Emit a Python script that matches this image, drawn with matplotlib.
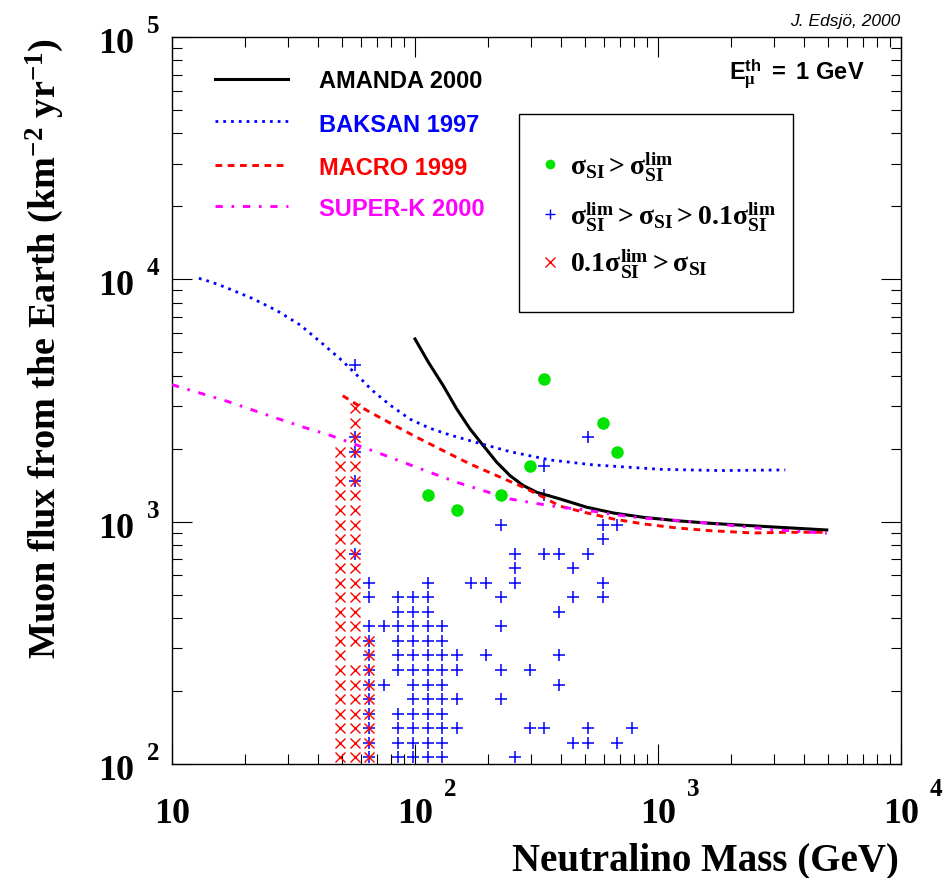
import matplotlib
matplotlib.use('Agg')
import matplotlib.pyplot as plt
import matplotlib.transforms as mtransforms
from matplotlib.lines import Line2D
from matplotlib.patches import Rectangle

plt.rcParams['mathtext.fontset'] = 'custom'
plt.rcParams['mathtext.rm'] = 'Liberation Serif:bold'
plt.rcParams['mathtext.it'] = 'Liberation Serif:bold'
plt.rcParams['mathtext.bf'] = 'Liberation Serif:bold'
plt.rcParams['mathtext.sf'] = 'Liberation Sans:bold'
plt.rcParams['mathtext.default'] = 'rm'

# ---------------- data ----------------
# scan grid (neutralino mass bins in GeV, muon flux bins in km^-2 yr^-1)
mass_grid = [49.2, 56.5, 64.9, 74.5, 85.5, 98.2, 112.7, 129.4, 148.6, 170.6,
             195.9, 224.9, 258.2, 296.5, 340.4, 390.8, 448.7, 515.2, 591.6,
             679.2, 779.8]
flux_grid = [106.7, 122.5, 140.6, 161.4, 185.4, 212.8, 244.3, 280.5, 322.1,
             369.8, 424.6, 487.5, 559.8, 642.7, 737.9, 847.2, 972.8, 1116.9,
             1282.3, 1472.3, 1690.4, 1940.9, 2228.4, 2558.5, 2937.6, 3372.8,
             3872.6, 4446.3]

# sigma_SI > sigma_lim : (mass bin, flux bin)
green_points = [(6, 18), (8, 17), (11, 18), (13, 20), (14, 26), (18, 23), (19, 21)]

# sigma_lim > sigma_SI > 0.1 sigma_lim : flux bin -> mass bins
plus_points = {
    0: [2, 4, 5, 6, 7, 12],
    1: [2, 4, 5, 6, 7, 16, 17, 19],
    2: [2, 4, 5, 6, 7, 8, 13, 14, 17, 20],
    3: [2, 4, 5, 6, 7],
    4: [2, 5, 6, 7, 8, 11],
    5: [2, 3, 5, 6, 7, 15],
    6: [2, 4, 5, 6, 7, 8, 11, 13],
    7: [2, 4, 5, 6, 7, 8, 10, 15],
    8: [2, 4, 5, 6, 7],
    9: [2, 3, 4, 5, 6, 7, 11],
    10: [4, 5, 6, 15],
    11: [2, 4, 5, 6, 11, 16, 18],
    12: [2, 6, 9, 10, 12, 18],
    13: [12, 16],
    14: [1, 12, 14, 15, 17],
    15: [18],
    16: [11, 18, 19],
    18: [14],
    19: [1],
    20: [14],
    21: [1],
    22: [1, 17],
    27: [1],
}

# 0.1 sigma_lim > sigma_SI : mass bin -> flux bins
cross_points = {
    0: [0, 1, 2, 3, 4, 5, 6, 7, 8, 9, 10, 11, 12, 13, 14, 15, 16, 17, 18, 19, 20, 21],
    1: [0, 1, 2, 3, 4, 5, 6, 8, 9, 10, 11, 12, 13, 14, 15, 16, 17, 18, 19, 20,
        21, 22, 23, 24],
    2: [0, 1, 2, 3, 4, 5, 6, 7, 8],
}

amanda_mass = [100, 113.5, 130.7, 148.5, 168.4, 191, 216.8, 246, 279, 317, 395,
               509, 655, 870, 1195, 1637, 2175, 4950]
amanda_flux = [5675, 4550, 3640, 2918, 2414, 2060, 1760, 1549, 1409, 1322, 1241,
               1147, 1086, 1042, 1009, 985, 968, 924]

baksan_mass = [12.9, 14.6, 16.6, 21.3, 27.0, 33.7, 41.4, 50.1, 61.5, 66.1, 78.9,
               95.3, 115, 139, 168, 246, 359, 542, 1019, 1800, 3340]
baksan_flux = [10100, 9730, 9270, 8360, 7430, 6480, 5450, 4620, 3780, 3508, 3030,
               2650, 2430, 2280, 2160, 1945, 1798, 1715, 1645, 1625, 1635]

macro_mass = [50.4, 57.7, 65.3, 81.5, 101.6, 130.7, 168.4, 216.8, 279, 337, 395,
              509, 655, 870, 1195, 1637, 2466, 3388, 4950]
macro_flux = [3311, 3041, 2830, 2510, 2230, 1963, 1730, 1549, 1387, 1262, 1159,
              1087, 1026, 979, 942, 918, 898, 904, 904]

superk_mass = [10, 13.3, 16.6, 21.3, 27.0, 34.8, 44.2, 56.0, 69.6, 89.5, 115,
               148.5, 191, 246, 307, 395, 493, 634, 843, 1086, 1489, 2042, 2978, 4950]
superk_flux = [3673, 3373, 3155, 2897, 2671, 2453, 2281, 2094, 1934, 1758, 1599,
               1454, 1343, 1241, 1194, 1147, 1121, 1076, 1036, 1019, 994, 963, 927, 896]

line_labels = ['AMANDA 2000', 'BAKSAN 1997', 'MACRO 1999', 'SUPER-K 2000']
x_tick_vals = [10, 100, 1000, 10000]
x_tick_exps = ['', '2', '3', '4']
y_tick_vals = [100, 1000, 10000, 100000]
y_tick_exps = ['2', '3', '4', '5']

# ---------------- figure ----------------
W, H = 949, 879
fig = plt.figure(figsize=(W / 100, H / 100), dpi=100)
def fx(x): return x / W
def fy(y): return 1 - y / H

ax = fig.add_axes([fx(172), fy(765), (901 - 172) / W, (765 - 38) / H])
ax.set_xscale('log')
ax.set_yscale('log')
ax.set_xlim(10, 1e4)
ax.set_ylim(100, 1e5)
for s in ax.spines.values():
    s.set_linewidth(1.0)
ax.tick_params(which='both', direction='in', top=True, right=True,
               labelbottom=False, labelleft=False, width=0.8)
ax.tick_params(which='major', length=14.4)
ax.tick_params(which='minor', length=7.2)

BLUE = '#0000ff'; RED = '#ff0000'; MAG = '#ff00ff'; GREEN = '#00e400'

STY_AMANDA = dict(color='black', lw=2.2)
STY_BAKSAN = dict(color=BLUE, lw=2.0, dashes=(1.0, 1.8))
STY_MACRO = dict(color=RED, lw=2.1, dashes=(2.3, 1.9))
STY_SUPERK = dict(color=MAG, lw=2.1, dashes=(2.5, 3.0, 0.9, 3.0))

# scatter
px = [mass_grid[c] for r, cs in plus_points.items() for c in cs]
py = [flux_grid[r] for r, cs in plus_points.items() for c in cs]
ax.plot(px, py, ls='none', marker='+', ms=8, mew=1.1, color=BLUE, zorder=2)
cx = [mass_grid[c] for c, rs in cross_points.items() for r in rs]
cy = [flux_grid[r] for c, rs in cross_points.items() for r in rs]
ax.plot(cx, cy, ls='none', marker='x', ms=7.2, mew=1.0, color=RED, zorder=3)

# limit curves
ax.plot(amanda_mass, amanda_flux, zorder=4, **STY_AMANDA)
ax.plot(baksan_mass, baksan_flux, zorder=4, **STY_BAKSAN)
ax.plot(macro_mass, macro_flux, zorder=4, **STY_MACRO)
ax.plot(superk_mass, superk_flux, zorder=4, **STY_SUPERK)

gx = [mass_grid[c] for c, r in green_points]
gy = [flux_grid[r] for c, r in green_points]
ax.plot(gx, gy, ls='none', marker='o', ms=9, mec='none', color=GREEN, zorder=5)

# tick labels (ROOT style)
tfont = dict(family='Liberation Serif', weight='bold', color='black')
bt = mtransforms.blended_transform_factory(ax.transData, fig.transFigure)
for v, e in zip(x_tick_vals, x_tick_exps):
    ax.text(v, fy(823), '10', transform=bt, ha='center', va='baseline',
            fontsize=26, **tfont)
    if e:
        ax.text(v, fy(796), e, transform=mtransforms.offset_copy(bt, fig=fig, x=29, units='dots'),
                ha='left', va='baseline', fontsize=18, **tfont)
lt = mtransforms.blended_transform_factory(fig.transFigure, ax.transData)
for v, e in zip(y_tick_vals, y_tick_exps):
    ax.text(fx(134), v, '10', transform=mtransforms.offset_copy(lt, fig=fig, y=-15, units='dots'),
            ha='right', va='baseline', fontsize=26, **tfont)
    ax.text(fx(147), v, e, transform=mtransforms.offset_copy(lt, fig=fig, y=5, units='dots'),
            ha='left', va='baseline', fontsize=18, **tfont)

# axis titles
fig.text(fx(45), fy(38), r'Muon flux from the Earth (km$^{-2}$ yr$^{-1}$)',
         rotation=90, ha='center', va='top', fontsize=27.5, **tfont)
fig.text(fx(899), fy(870), 'Neutralino Mass (GeV)', ha='right', va='baseline',
         fontsize=28, **tfont)

fig.text(fx(900), fy(26), 'J. Edsjö, 2000', ha='right', va='baseline',
         fontsize=12.5, family='Liberation Sans', style='italic')
fig.text(fx(729), fy(80), r'$\mathsf{E}^{\mathsf{th}}_{\mu}\mathsf{\ =\ 1\ GeV}$',
         ha='left', va='baseline', fontsize=17)

# line legend
leg_styles = [STY_AMANDA, STY_BAKSAN, STY_MACRO, STY_SUPERK]
leg_colors = ['black', BLUE, RED, MAG]
leg_line_y = [80, 122, 166, 207]
leg_text_y = [88, 131.5, 175, 216.5]
for lab, st, col, ly, ty in zip(line_labels, leg_styles, leg_colors, leg_line_y, leg_text_y):
    fig.add_artist(Line2D([fx(215), fx(288)], [fy(ly), fy(ly)], transform=fig.transFigure, **st))
    fig.text(fx(319), fy(ty), lab, ha='left', va='baseline', fontsize=17,
             family='Liberation Sans', weight='bold', color=col)

# marker legend box
fig.add_artist(Rectangle((fx(519), fy(313)), (793 - 519) / W, (313 - 115) / H,
                         transform=fig.transFigure, facecolor='white',
                         edgecolor='black', lw=1.0, zorder=1))
box_labels = [r'$\sigma_{SI} > \sigma_{SI}^{lim}$',
              r'$\sigma_{SI}^{lim} > \sigma_{SI} > 0.1\sigma_{SI}^{lim}$',
              r'$0.1\sigma_{SI}^{lim} > \sigma_{SI}$']
box_markers = [dict(marker='o', ms=7, mec='none', color=GREEN),
               dict(marker='+', ms=6.5, mew=1.0, color=BLUE),
               dict(marker='x', ms=6.5, mew=1.0, color=RED)]
box_mark_y = [165, 215, 263]
box_text_y = [175, 225, 273]
for lab, mk, my, ty in zip(box_labels, box_markers, box_mark_y, box_text_y):
    fig.add_artist(Line2D([fx(550)], [fy(my)], transform=fig.transFigure, ls='none', zorder=2, **mk))
    fig.text(fx(570), fy(ty), lab, ha='left', va='baseline', fontsize=20, zorder=3)

fig.savefig('out.png', dpi=100)
